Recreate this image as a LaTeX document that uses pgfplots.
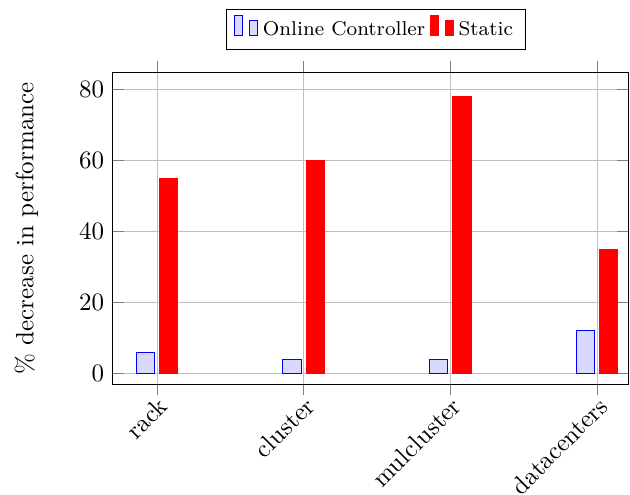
\documentclass[border=0pt]{standalone}
\usepackage{pgfplots}
\pgfplotsset{compat=1.18}
\begin{document}
\begin{tikzpicture}
\begin{axis}[
  name=ax,
  scale only axis,
  width=206pt, height=125pt,
  ybar, bar width=7.3pt,
  xmin=-0.3, xmax=3.21,
  ymin=-3.1, ymax=85,
  xtick={0,1,2,3},
  xticklabels={rack,cluster,mulcluster,datacenters},
  x tick label style={rotate=45, anchor=north east, inner sep=0pt},
  ytick={0,20,40,60,80},
  grid=major,
  ylabel={\% decrease in performance},
  ylabel style={yshift=9.5pt},
  legend style={at={(0.511,1.071)}, anchor=south, legend columns=-1,
    font=\footnotesize},
]
\addplot[draw=blue, fill=blue!15] coordinates {(0,6) (1,4) (2,4) (3,12)};
\addplot[draw=red, fill=red] coordinates {(0,55) (1,60) (2,78) (3,35)};
\legend{Online Controller, Static}
\end{axis}
% page frame: the rotated labels run past the lower edge
\pgfresetboundingbox
\useasboundingbox ([shift={(-45.2pt,-44pt)}]ax.south west)
  rectangle ([shift={(0.8pt,28.8pt)}]ax.north east);
\end{tikzpicture}
\end{document}
